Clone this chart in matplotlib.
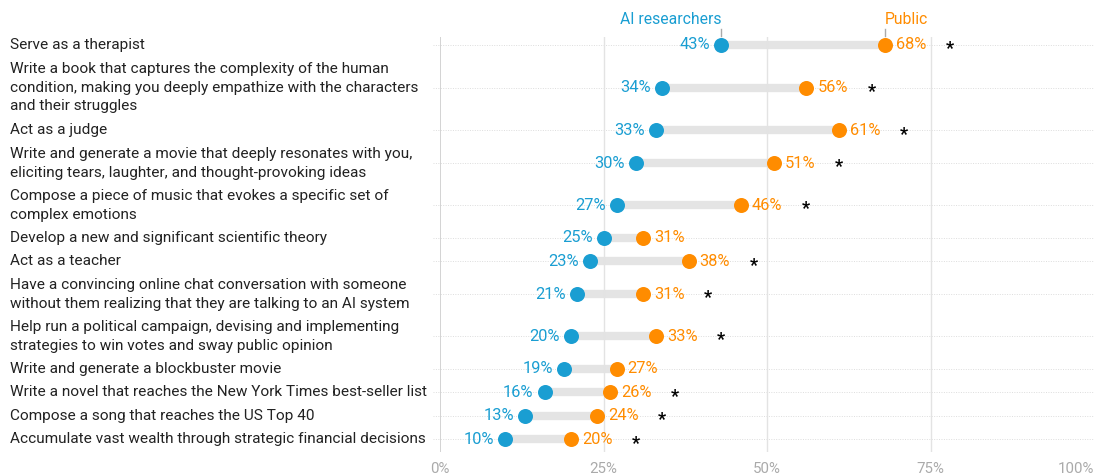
import matplotlib.pyplot as plt
import numpy as np
from matplotlib.transforms import blended_transform_factory

plt.rcParams['font.family'] = ['Roboto', 'DejaVu Sans']

tasks = [
    "Serve as a therapist",
    "Write a book that captures the complexity of the human\ncondition, making you deeply empathize with the characters\nand their struggles",
    "Act as a judge",
    "Write and generate a movie that deeply resonates with you,\neliciting tears, laughter, and thought-provoking ideas",
    "Compose a piece of music that evokes a specific set of\ncomplex emotions",
    "Develop a new and significant scientific theory",
    "Act as a teacher",
    "Have a convincing online chat conversation with someone\nwithout them realizing that they are talking to an AI system",
    "Help run a political campaign, devising and implementing\nstrategies to win votes and sway public opinion",
    "Write and generate a blockbuster movie",
    "Write a novel that reaches the New York Times best-seller list",
    "Compose a song that reaches the US Top 40",
    "Accumulate vast wealth through strategic financial decisions",
]
ai_researchers = [43, 34, 33, 30, 27, 25, 23, 21, 20, 19, 16, 13, 10]
public = [68, 56, 61, 51, 46, 31, 38, 31, 33, 27, 26, 24, 20]
significant = [True, True, True, True, True, False, True, True, True, False, True, True, True]

BLUE = '#1a9ed2'
ORANGE = '#ff8c00'

# row heights depend on how many lines the label has
half = {1: 11.75, 2: 21.0, 3: 31.0}
nlines = [t.count('\n') + 1 for t in tasks]
ys = [45.0]
for i in range(1, len(tasks)):
    ys.append(ys[-1] + half[nlines[i - 1]] + half[nlines[i]])
ys = np.array(ys)

fig = plt.figure(figsize=(10.94, 4.75), dpi=100)
ax = fig.add_axes([440 / 1094, 1 - 452 / 475, 1 - 440 / 1094, (452 - 37) / 475])
ax.set_xlim(0, 100)
ax.set_ylim(452, 37)
label_tr = blended_transform_factory(fig.transFigure, ax.transData)

# grid
for g in [25, 50, 75]:
    ax.axvline(g, color='#e3e3e3', lw=1, zorder=2)
ax.axvline(0, color='#cccccc', lw=1.2, zorder=2)
for y in ys:
    ax.plot([-1, 100], [y, y], color='#dddddd', lw=0.7, ls=(0, (1, 1.5)), zorder=0, clip_on=False)

for i, y in enumerate(ys):
    a, p = ai_researchers[i], public[i]
    ax.plot([a, p], [y, y], color='#e4e4e4', lw=6, solid_capstyle='butt', zorder=1)
    ax.plot(a, y, 'o', color=BLUE, ms=10.8, mec='none', zorder=3)
    ax.plot(p, y, 'o', color=ORANGE, ms=10.8, mec='none', zorder=3)
    ax.annotate(f"{a}%", (a, y), xytext=(-8, 0), textcoords='offset points',
                ha='right', va='center', color=BLUE, fontsize=11.8)
    ax.annotate(f"{p}%", (p, y), xytext=(8, 0), textcoords='offset points',
                ha='left', va='center', color=ORANGE, fontsize=11.8)
    if significant[i]:
        ax.annotate("*", (p, y), xytext=(47, -3), textcoords='offset points',
                    ha='center', va='center', color='black', fontsize=13, fontweight='bold')
    ax.text(10 / 1094, y, tasks[i], transform=label_tr,
            ha='left', va='center', fontsize=11.1, color='#222222', linespacing=1.42)

# series headers above first row
ax.plot([ai_researchers[0]] * 2, [29, 36], color='#aaaaaa', lw=1, clip_on=False)
ax.plot([public[0]] * 2, [29, 36], color='#aaaaaa', lw=1, clip_on=False)
ax.text(ai_researchers[0], 27, "AI researchers", ha='right', va='bottom', color=BLUE, fontsize=11.3)
ax.text(public[0], 27, "Public", ha='left', va='bottom', color=ORANGE, fontsize=11.3)

ax.set_xticks([0, 25, 50, 75, 100])
ax.set_xticklabels(["0%", "25%", "50%", "75%", "100%"])
ax.get_xticklabels()[-1].set_ha('right')
ax.tick_params(axis='x', length=0, labelsize=10.8, labelcolor='#aaaaaa', pad=7)
ax.set_yticks([])
for s in ax.spines.values():
    s.set_visible(False)

fig.savefig('out.png', dpi=100)
